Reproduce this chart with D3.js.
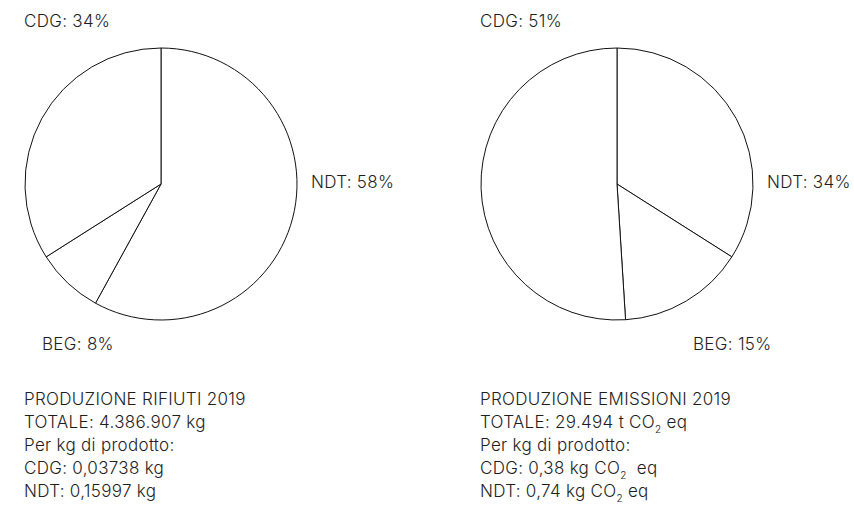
<!DOCTYPE html>
<html><head><meta charset="utf-8">
<script src="https://cdn.jsdelivr.net/npm/d3@7"></script>
<style>body{margin:0;background:#fff}text{font-family:Inter,"Liberation Sans",sans-serif;fill:#1e1e1e;font-weight:300;letter-spacing:0.3px}</style>
</head><body>
<svg id="c" width="854" height="505"></svg>
<script>
const categories = ["NDT","BEG","CDG"];
const rifiuti = [58, 8, 34];
const emissioni = [34, 15, 51];
const titlesLeft = ["PRODUZIONE RIFIUTI 2019","TOTALE: 4.386.907 kg","Per kg di prodotto:","CDG: 0,03738 kg","NDT: 0,15997 kg"];
const titlesRight = [
  [["PRODUZIONE EMISSIONI 2019"]],
  [["TOTALE: 29.494 t CO"],["2","sub"],[" eq"]],
  [["Per kg di prodotto:"]],
  [["CDG: 0,38 kg CO"],["2","sub"],["\u00a0\u00a0eq"]],
  [["NDT: 0,74 kg CO"],["2","sub"],[" eq"]]
];

const svg = d3.select("#c");
const R = 136;
const pie = d3.pie().sort(null).value(d=>d);
const arc = d3.arc().innerRadius(0).outerRadius(R);

const charts = [
  {cx:161, cy:184, values:rifiuti, labels:[[311,188],[42,350],[24,27]], textX:24},
  {cx:617, cy:184, values:emissioni, labels:[[767,188],[693,350],[480,27]], textX:480}
];

charts.forEach(ch=>{
  const g = svg.append("g").attr("transform",`translate(${ch.cx},${ch.cy})`);
  g.selectAll("path").data(pie(ch.values)).join("path")
    .attr("d",arc).attr("fill","#fff").attr("stroke","#111").attr("stroke-width",1);
  ch.values.forEach((v,i)=>{
    const [x,y] = ch.labels[i];
    svg.append("text").attr("x",x).attr("y",y)
      .attr("font-size",17).text(`${categories[i]}: ${v}%`);
  });
});

const lineY = [405,428,451,474,497];
titlesLeft.forEach((t,i)=>{
  svg.append("text").attr("x",24).attr("y",lineY[i]).attr("font-size",17).text(t);
});
titlesRight.forEach((parts,i)=>{
  const t = svg.append("text").attr("x",480).attr("y",lineY[i]).attr("font-size",17);
  parts.forEach((p,j)=>{
    const ts = t.append("tspan").text(p[0]);
    if(p[1]==="sub"){ ts.attr("font-size",10).attr("dy",5); }
    else if(j>0){ ts.attr("dy",-5); }
  });
});
</script>
</body></html>
